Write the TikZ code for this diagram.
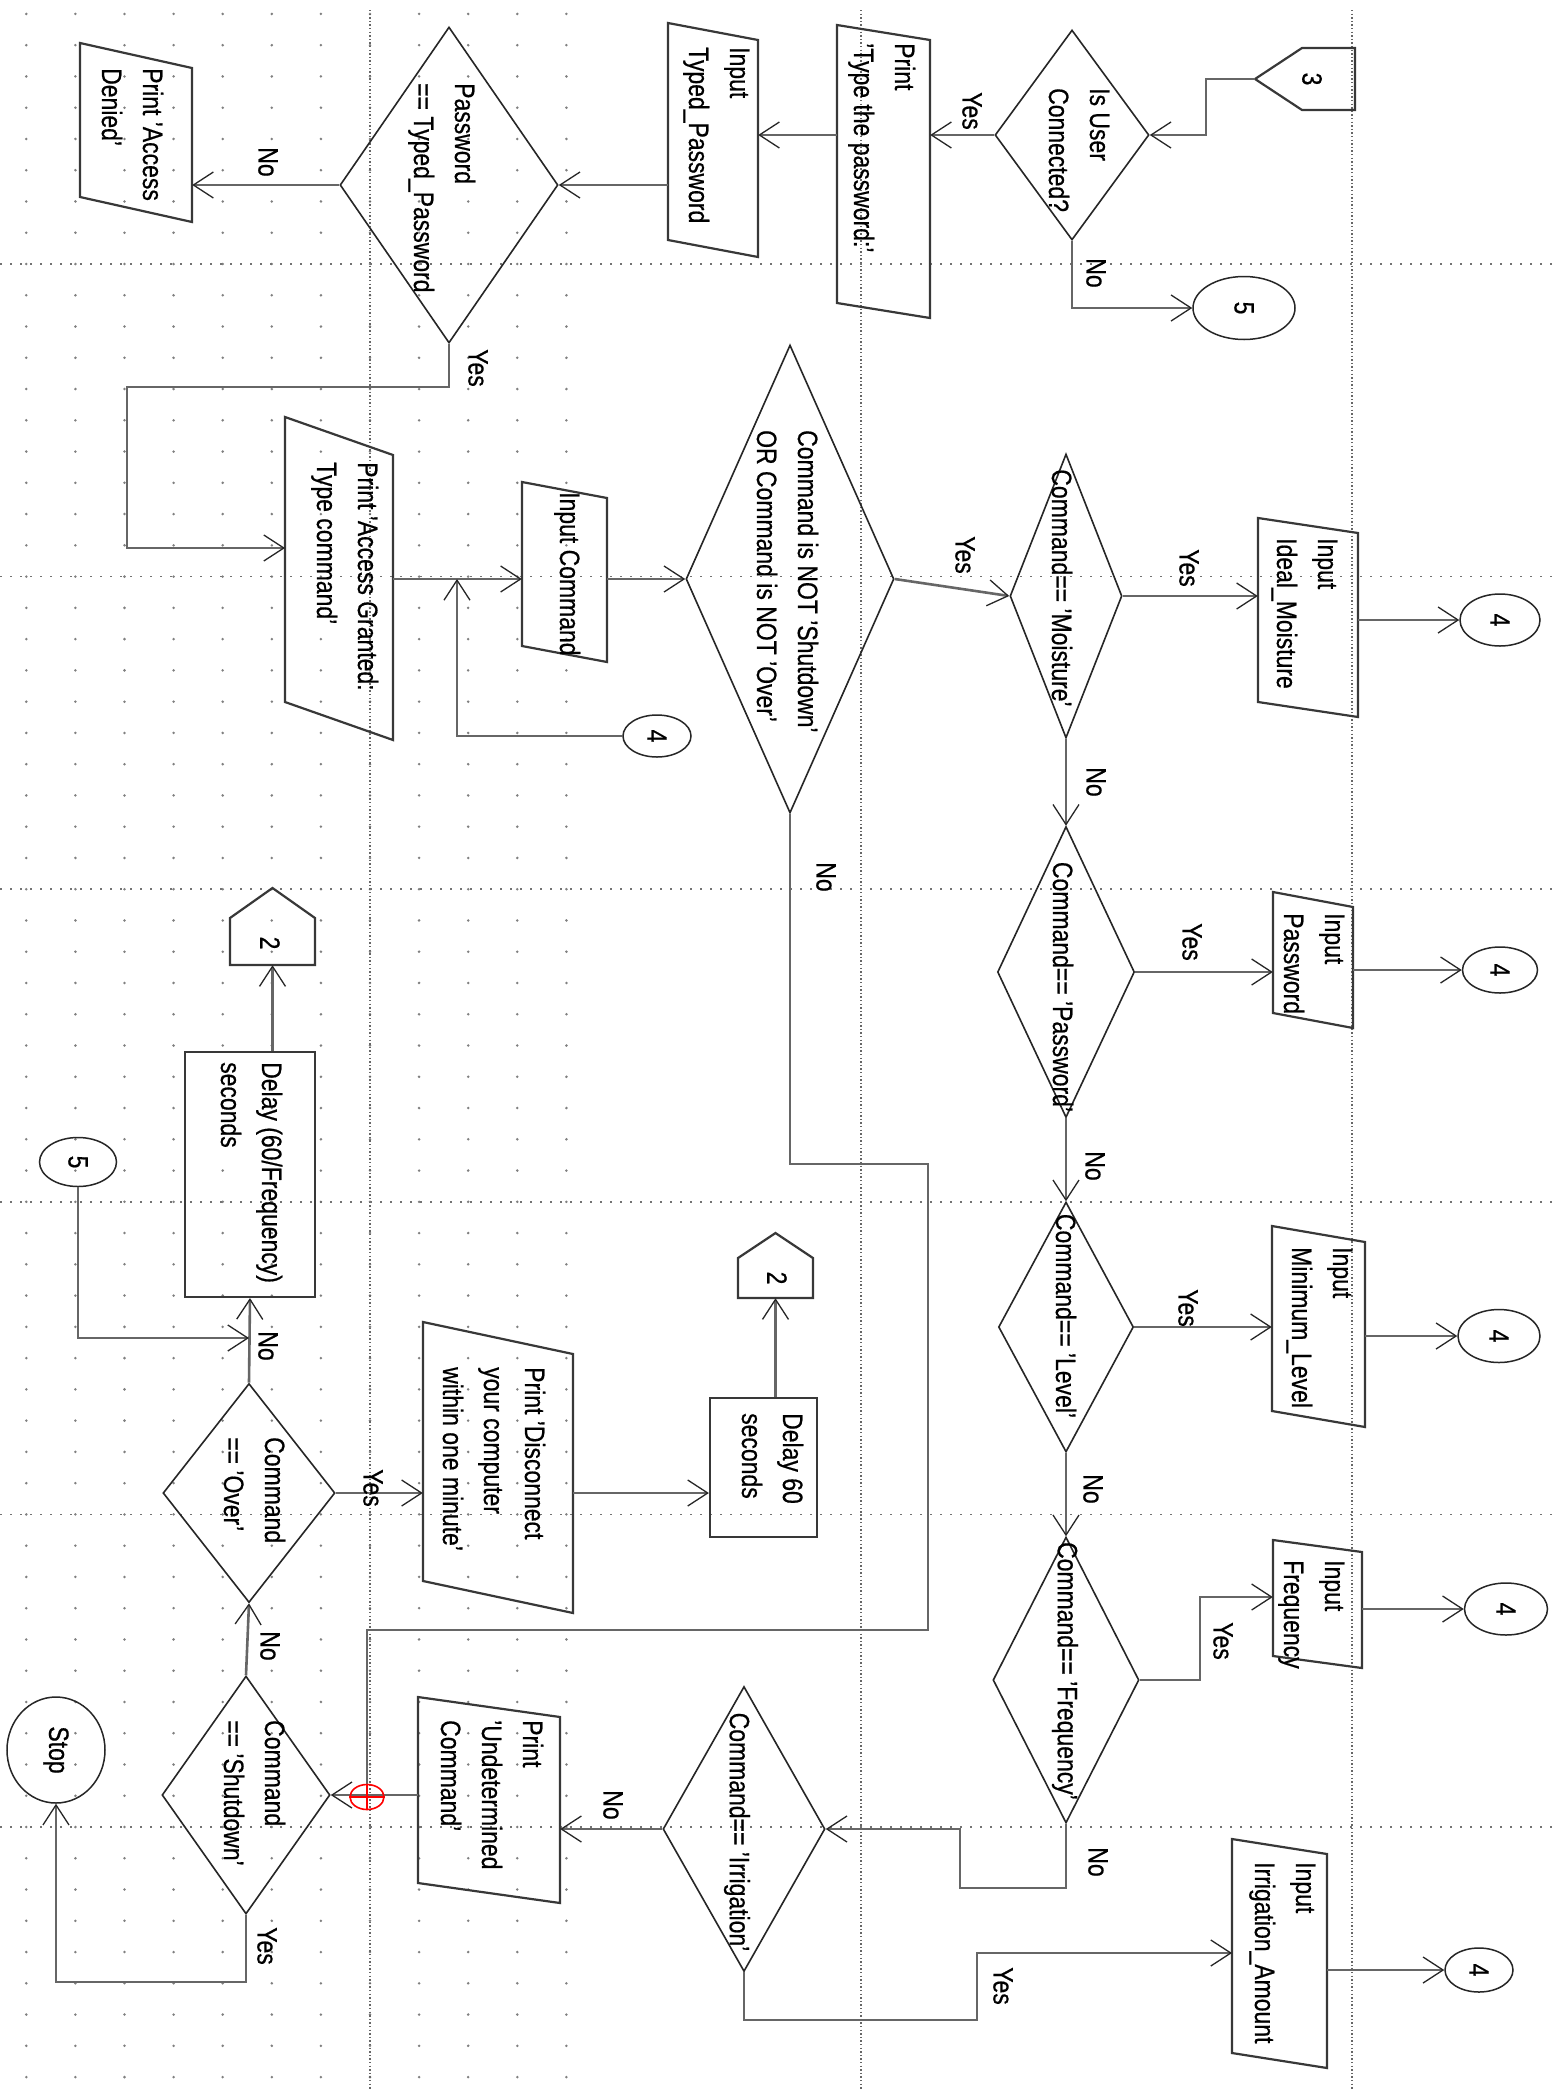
\documentclass[tikz,border=0pt]{standalone}
\usepackage{fontspec}
\setmainfont{Liberation Sans}[FakeStretch=0.82,FakeBold=0.6]
\usetikzlibrary{arrows.meta,shapes.geometric,calc}
\newcommand\txf{\fontsize{28}{41}\selectfont}
% name W T E B slant
\newcommand\para[6]{%
  \node[box, minimum width={#4-#2}, minimum height={#5-#3}] (#1) at ({(#2+#4)/2},{(#3+#5)/2}) {};
  \draw[shp] (#2,#3) -- (#4,{#3+#6}) -- (#4,#5) -- (#2,{#5-#6}) -- cycle;}
\begin{document}
\begin{tikzpicture}[x=1pt,y=-1pt,
  conn/.style={line width=2.6pt, draw=black!60},
  arr/.style={conn, -{Straight Barb[length=20pt,width=26pt,line width=1.3pt,color=black!85]}},
  shp/.style={line width=2.2pt, draw=black!78},
  dia/.style={shape=diamond, draw=black!85, line width=1.6pt, inner sep=0pt},
  ell/.style={shape=ellipse, draw=black!85, line width=1.5pt, inner sep=0pt},
  box/.style={rectangle, inner sep=0pt},
  tx/.style={rotate=-90, align=left, inner sep=0pt, anchor=base west, font=\txf},
  lb/.style={rotate=-90, inner sep=0pt, font=\txf},
  dotc/.style={fill=black!50}]
\fill[white] (0,0) rectangle (1558,2089);
\useasboundingbox (0,0) rectangle (1558,2089);
% grid
\foreach \i in {-7,...,4}{\foreach \j in {-8,...,58}{\fill[dotc] ({370+49.1*\i},{264+31.26*\j}) circle (1.4);}}
\foreach \x in {370,861,1352} \draw[black!60, line width=1.5pt, dash pattern=on 1.4pt off 2.2pt] (\x,10) -- (\x,2089);
\foreach \k in {0,...,5} \draw[black!55, line width=1.5pt, dash pattern=on 2pt off 8pt] (0,{264+312.6*\k}) -- (1558,{264+312.6*\k});

% diamonds
\node[dia, minimum width=154, minimum height=210] (d1) at (1072,135) {};
\node[dia, minimum width=218, minimum height=316] (d2) at (449,185) {};
\node[dia, minimum width=208, minimum height=468] (d3) at (790,579) {};
\node[dia, minimum width=112, minimum height=284] (d4) at (1066,596) {};
\node[dia, minimum width=137, minimum height=291] (d5) at (1066,972) {};
\node[dia, minimum width=135, minimum height=250] (d6) at (1066,1327) {};
\node[dia, minimum width=146, minimum height=286] (d7) at (1066,1680) {};
\node[dia, minimum width=162, minimum height=285] (d8) at (744,1829) {};
\node[dia, minimum width=168, minimum height=238] (d9) at (246,1795) {};
\node[dia, minimum width=172, minimum height=219] (d10) at (249,1493) {};

% parallelograms
\para{p1}{837}{25}{930}{318}{15}
\para{p2}{668}{23}{758}{257}{17}
\para{p3}{80}{43}{192}{222}{25}
\para{p4}{285}{417}{393}{740}{38}
\para{p5}{522}{482}{607}{662}{16}
\para{p6}{1258}{518}{1358}{717}{15}
\para{p7}{1273}{892}{1353}{1028}{15}
\para{p8}{1272}{1226}{1365}{1427}{16}
\para{p9}{1273}{1540}{1362}{1668}{12}
\para{p10}{1232}{1839}{1327}{2068}{15}
\para{p11}{418}{1697}{560}{1903}{20}
\para{p12}{423}{1322}{573}{1613}{32}

% rectangles
\node[box, draw=black!78, line width=2.2pt, minimum width=130, minimum height=245] (r1) at (250,1174.5) {};
\node[box, draw=black!78, line width=2.2pt, minimum width=107, minimum height=139] (r2) at (763.5,1467.5) {};

% connectors (circles / terminal)
\node[ell, minimum width=102, minimum height=63] (c5a) at (1244,308) {};
\node[ell, minimum width=68, minimum height=42] (c4a) at (657,736) {};
\node[ell, minimum width=80, minimum height=52] (c4b) at (1500,620) {};
\node[ell, minimum width=75, minimum height=46] (c4c) at (1500,970) {};
\node[ell, minimum width=82, minimum height=53] (c4d) at (1499,1336) {};
\node[ell, minimum width=83, minimum height=52] (c4e) at (1506,1609) {};
\node[ell, minimum width=68, minimum height=44] (c4f) at (1479,1970) {};
\node[ell, minimum width=77, minimum height=49] (c5b) at (78,1162) {};
\node[ell, minimum width=98, minimum height=106] (stop) at (56,1750) {};

% off-page pentagons
\node[box, minimum width=100, minimum height=62] (o3) at (1305,79) {};
\draw[shp] (1355,48) -- (1302,48) -- (1255,79) -- (1302,110) -- (1355,110) -- cycle;
\node[box, minimum width=85, minimum height=77] (o2a) at (272.5,926.5) {};
\draw[shp] (272.5,888) -- (315,918) -- (315,965) -- (230,965) -- (230,918) -- cycle;
\node[box, minimum width=75, minimum height=65] (o2b) at (775.5,1265.5) {};
\draw[shp] (775.5,1233) -- (813,1258) -- (813,1298) -- (738,1298) -- (738,1258) -- cycle;

% bend points
\coordinate (j10) at (1206,79);
\coordinate (j2) at (127,387);
\coordinate (p4in) at (285,548);
\coordinate (j1) at (457,579);
\coordinate (j5) at (928,1164);
\coordinate (j6) at (367,1630);
\coordinate (jn) at (367,1797);
\coordinate (j7) at (960,1888);
\coordinate (j8) at (977,2020);
\coordinate (p10in) at (1232,1953);
\coordinate (j9) at (1200,1597);
\coordinate (j3) at (249,1338);
\coordinate (j4) at (56,1982);

% connectors
\draw[arr] (o3.west) -- (j10) |- (d1.east);
\draw[arr] (d1.west) -- (d1.west -| p1.east);
\draw[arr] (d1.south) |- (c5a.west);
\draw[arr] (p1.west |- d1.west) -- (p2.east |- d1.west);
\draw[arr] (p2.west |- d2.east) -- (d2.east);
\draw[arr] (d2.west) -- (d2.west -| p3.east);
\draw[arr] (d2.south) |- (j2) |- (p4in);
\draw[arr] (p4.east |- d3.west) -- (p5.west |- d3.west);
\draw[arr] (c4a.west) -| (j1);
\draw[arr] (p5.east |- d3.west) -- (d3.west);
\draw[arr] (d3.east) -- (d4.west);
\draw[arr] (d4.east) -- (d4.east -| p6.west);
\draw[arr] (p6.east |- c4b) -- (c4b.west);
\draw[arr] (d4.south) -- (d5.north);
\draw[arr] (d5.east) -- (d5.east -| p7.west);
\draw[arr] (p7.east |- c4c) -- (c4c.west);
\draw[arr] (d5.south) -- (d6.north);
\draw[arr] (d6.east) -- (d6.east -| p8.west);
\draw[arr] (p8.east |- c4d) -- (c4d.west);
\draw[arr] (d6.south) -- (d7.north);
\draw[arr] (d7.east) -| (j9) -- (p9.west |- j9);
\draw[arr] (p9.east |- c4e) -- (c4e.west);
\draw[arr] (d7.south) |- (j7) |- (d8.east);
\draw[arr] (d8.south) |- (j8) |- (p10in);
\draw[arr] (p10.east |- c4f) -- (c4f.west);
\draw[arr] (d8.west) -- (d8.west -| p11.east);
\draw[arr] (p11.west |- d9.east) -- (d9.east);
\draw[conn] (d3.south) |- (j5) |- (j6) -- (jn);
\draw[arr] (d9.south) |- (j4) -- (stop.south);
\draw[arr] (d9.north) -- (d10.south);
\draw[arr] (d10.north) -- (r1.south);
\draw[arr] (c5b.south) |- (j3);
\draw[arr] (r1.north -| o2a.south) -- (o2a.south);
\draw[arr] (d10.east) -- (d10.east -| p12.west);
\draw[arr] (p12.east |- d10.east) -- (r2.west |- d10.east);
\draw[arr] (r2.north -| o2b.south) -- (o2b.south);

% junction marker
\node[draw=red, line width=1.6pt, ellipse, minimum width=34, minimum height=25, inner sep=0pt] (jx) at (jn) {};
\draw[red, line width=1.2pt] (jx.west) -- (jx.east) (jx.north) -- (jx.south);

% texts (base anchor = baseline of the last line)
\node[lb] (t3) at (1312,79) {3};
\node[tx] (t1) at (1049,88) {Is User\\Connected?};
\node[tx] (tp1) at (854,43) {Print\\'Type the password:'};
\node[tx] (tp2) at (689,47) {Input\\Typed\_Password};
\node[tx] (td2) at (414,83) {Password\\== Typed\_Password};
\node[tx] (tp3) at (102,68) {Print 'Access\\Denied'};
\node[tx] (tp4) at (317,462) {Print 'Access Granted:\\Type command'};
\node[tx] (tp5) at (560,492) {Input Command};
\node[tx] (td3) at (757,430) {Command is NOT 'Shutdown'\\OR Command is NOT 'Over'};
\node[lb] (td4) at (1062,588) {Command== 'Moisture'};
\node[lb] (td5) at (1063,987) {Command== 'Password'};
\node[lb] (td6) at (1066,1316) {Command== 'Level'};
\node[lb] (td7) at (1065,1671) {Command== 'Frequency'};
\node[lb] (td8) at (737,1832) {Command== 'Irrigation'};
\node[tx] (tp6) at (1277,538) {Input\\Ideal\_Moisture};
\node[tx] (tp7) at (1284,913) {Input\\Password};
\node[tx] (tp8) at (1292,1247) {Input\\Minimum\_Level};
\node[tx] (tp9) at (1284,1560) {Input\\Frequency};
\node[tx] (tp10) at (1255,1862) {Input\\Irrigation\_Amount};
\node[tx] (tp11) at (441,1720) {Print\\'Undetermined\\Command'};
\node[tx] (td9) at (224,1720) {Command\\== 'Shutdown'};
\node[tx] (td10) at (224,1437) {Command\\== 'Over'};
\node[tx] (tr1) at (221,1062) {Delay (60/Frequency)\\seconds};
\node[tx] (tr2) at (742,1413) {Delay 60\\seconds};
\node[tx] (tp12) at (443,1367) {Print 'Disconnect\\your computer\\within one minute'};
\node[lb] (t2a) at (270,943) {2};
\node[lb] (t2b) at (777,1278) {2};
\node[lb] (t5a) at (c5a) {5};
\node[lb] (t5b) at (c5b) {5};
\node[lb] (t4a) at (c4a) {4};
\node[lb] (t4b) at (c4b) {4};
\node[lb] (t4c) at (c4c) {4};
\node[lb] (t4d) at (c4d) {4};
\node[lb] (t4e) at (c4e) {4};
\node[lb] (t4f) at (c4f) {4};
\node[lb] (tstop) at (stop) {Stop};

% yes / no labels
\node[lb] (y1) at (972,111) {Yes};
\node[lb] (n1) at (1096,273) {No};
\node[lb] (n2) at (268,162) {No};
\node[lb] (y2) at (478,368) {Yes};
\node[lb] (y3) at (965,555) {Yes};
\node[lb] (n3) at (826,877) {No};
\node[lb] (y4) at (1189,568) {Yes};
\node[lb] (n4) at (1096,782) {No};
\node[lb] (y5) at (1192,942) {Yes};
\node[lb] (n5) at (1095,1166) {No};
\node[lb] (y6) at (1188,1308) {Yes};
\node[lb] (n6) at (1093,1489) {No};
\node[lb] (y7) at (1223,1641) {Yes};
\node[lb] (n7) at (1098,1862) {No};
\node[lb] (y8) at (1003,1986) {Yes};
\node[lb] (n8) at (613,1805) {No};
\node[lb] (n9) at (270,1646) {No};
\node[lb] (y9) at (267,1946) {Yes};
\node[lb] (n10) at (268,1346) {No};
\node[lb] (y10) at (373,1488) {Yes};
\end{tikzpicture}
\end{document}
